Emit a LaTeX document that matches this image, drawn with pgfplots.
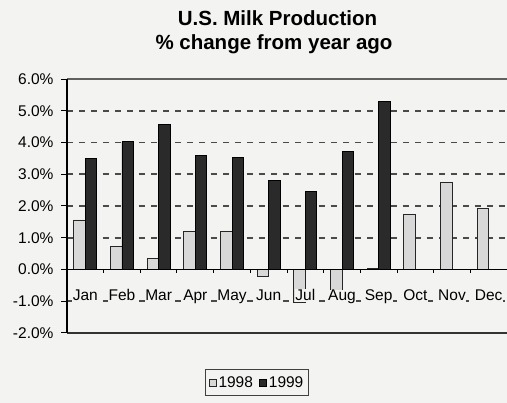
\documentclass[border=0pt]{standalone}
\usepackage{pgfplots}
\pgfplotsset{compat=1.18}
\usepackage{fontspec}
\setmainfont{Liberation Sans}
\definecolor{bgc}{HTML}{F3F3F1}
\definecolor{lightbar}{HTML}{D8D8D8}
\definecolor{darkbar}{HTML}{2A2A2A}
\definecolor{gridc}{HTML}{4A4A4A}
\begin{document}
\begin{tikzpicture}[x=1pt,y=1pt]
\path[use as bounding box, fill=bgc] (0,0) rectangle (507,403);
\node[font=\bfseries\fontsize{20.5}{23}\selectfont, anchor=base] at (277.5,377) {U.S. Milk Production};
\node[font=\bfseries\fontsize{20.5}{23}\selectfont, anchor=base] at (274,353) {\% change from year ago};
\begin{axis}[
  at={(67pt,70pt)}, anchor=south west, scale only axis,
  width=440pt, height=254pt,
  xmin=0.5, xmax=12.5, ymin=-2, ymax=6,
  clip=false,
  ybar=0pt, bar width=11.5pt,
  axis line style={draw=none},
  xtick=\empty,
  ytick={-2,-1,...,6},
  ytick pos=left, tick align=outside, major tick length=6pt,
  tick style={black, line width=1pt},
  ymajorgrids,
  major grid style={gridc, line width=1.8pt, dash pattern=on 6pt off 6pt},
  /pgf/number format/assume math mode=true,
  yticklabel={\pgfmathprintnumber[fixed,fixed zerofill,precision=1]{\tick}\%},
  yticklabel style={font=\fontsize{15.5}{17}\selectfont, xshift=-4pt},
  legend style={at={(axis description cs:0.4318,-0.195)}, anchor=center,
    draw=black!75, line width=0.8pt, fill=bgc, font=\fontsize{15.5}{17}\selectfont,
    legend columns=2, inner xsep=3pt, inner ysep=5pt,
    /tikz/every even column/.append style={column sep=4pt}},
  legend image code/.code={\draw[#1, line width=0.9pt] (0pt,-3.5pt) rectangle (7pt,3.5pt);},
]
\addplot[fill=lightbar, draw=black!85, line width=0.9pt] coordinates {
 (1,1.56) (2,0.73) (3,0.34) (4,1.21) (5,1.21) (6,-0.21)
 (7,-1.04) (8,-0.88) (9,0.03) (10,1.74) (11,2.73) (12,1.93)};
\addplot[fill=darkbar, draw=black, line width=0.9pt] coordinates {
 (1,3.49) (2,4.02) (3,4.57) (4,3.58) (5,3.52) (6,2.80)
 (7,2.46) (8,3.71) (9,5.30)};
\legend{1998,1999}
\draw[gray!75!black, line width=1.3pt] (axis cs:0.5,6) -- (axis cs:12.5,6);
\draw[black!80, line width=1.3pt] (axis cs:0.5,-2) -- (axis cs:12.5,-2);
\draw[black, line width=1.3pt] (axis cs:0.5,0) -- (axis cs:12.5,0);
\draw[black, line width=1.3pt] (axis cs:0.5,-2) -- (axis cs:0.5,6);
\pgfplotsinvokeforeach{1.5,2.5,3.5,4.5,5.5,6.5,7.5,8.5,9.5,10.5,11.5}{
  \draw[black, line width=1pt] (axis cs:#1,0) -- ++(0pt,-4pt);
}
\path[font=\fontsize{15.5}{17}\selectfont, every node/.style={fill=bgc, inner sep=0.5pt, anchor=base}]
 (axis cs:1,-0.99) node {Jan}
 (axis cs:2,-0.99) node {Feb}
 (axis cs:3,-0.99) node {Mar}
 (axis cs:4,-0.99) node {Apr}
 (axis cs:5,-0.99) node {May}
 (axis cs:6,-0.99) node {Jun}
 (axis cs:7,-0.99) node {Jul}
 (axis cs:8,-0.99) node {Aug}
 (axis cs:9,-0.99) node {Sep}
 (axis cs:10,-0.99) node {Oct}
 (axis cs:11,-0.99) node {Nov}
 (axis cs:12,-0.99) node {Dec};
\end{axis}
\end{tikzpicture}
\end{document}
